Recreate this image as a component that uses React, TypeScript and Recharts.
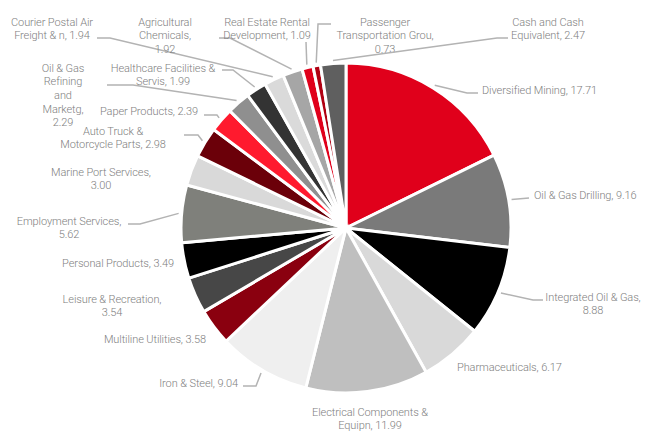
import React from 'react';
import { PieChart, Pie, Cell } from 'recharts';

const categories = [
  'Diversified Mining',
  'Oil & Gas Drilling',
  'Integrated Oil & Gas',
  'Pharmaceuticals',
  'Electrical Components & Equipn',
  'Iron & Steel',
  'Multiline Utilities',
  'Leisure & Recreation',
  'Personal Products',
  'Employment Services',
  'Marine Port Services',
  'Auto Truck & Motorcycle Parts',
  'Paper Products',
  'Oil & Gas Refining and Marketg',
  'Healthcare Facilities & Servis',
  'Courier Postal Air Freight & n',
  'Agricultural Chemicals',
  'Real Estate Rental Development',
  'Passenger Transportation Grou',
  'Cash and Cash Equivalent',
];

const weights = [
  17.71, 9.16, 8.88, 6.17, 11.99, 9.04, 3.58, 3.54, 3.49, 5.62,
  3.0, 2.98, 2.39, 2.29, 1.99, 1.94, 1.92, 1.09, 0.73, 2.47,
];

const colors = [
  '#e0001b', '#7a7a7a', '#000000', '#d9d9d9', '#bfbfbf', '#efefef',
  '#8a000f', '#474747', '#000000', '#7f807b', '#d9d9d9', '#6b0009',
  '#ff1a2e', '#8f8f8f', '#333333', '#dadada', '#a6a6a6', '#e0001b',
  '#b00012', '#5f5f5f',
];

const data = categories.map((name, i) => ({ name, value: weights[i] }));

// label layout (style only): text anchor point, alignment, wrap width, leader elbow points
type LabelLayout = {
  tx: number;
  ty: number;
  anchor: 'start' | 'middle' | 'end';
  wrap: number;
  pts: [number, number][];
};

const labelLayout: LabelLayout[] = [
  { tx: 482, ty: 90, anchor: 'start', wrap: 40, pts: [[467, 93], [478, 93]] },
  { tx: 534, ty: 195, anchor: 'start', wrap: 40, pts: [[529, 198]] },
  { tx: 593, ty: 297, anchor: 'middle', wrap: 21, pts: [[533, 300], [543, 300]] },
  { tx: 457, ty: 367, anchor: 'start', wrap: 40, pts: [] },
  { tx: 370, ty: 412, anchor: 'middle', wrap: 23, pts: [] },
  { tx: 238, ty: 383, anchor: 'end', wrap: 40, pts: [[256, 386], [243, 386]] },
  { tx: 206, ty: 339, anchor: 'end', wrap: 40, pts: [] },
  { tx: 112, ty: 299, anchor: 'middle', wrap: 21, pts: [] },
  { tx: 118, ty: 263, anchor: 'middle', wrap: 40, pts: [] },
  { tx: 69, ty: 221, anchor: 'middle', wrap: 20, pts: [[140, 224], [128, 224]] },
  { tx: 101, ty: 172, anchor: 'middle', wrap: 21, pts: [] },
  { tx: 113, ty: 131, anchor: 'middle', wrap: 22, pts: [[198, 135], [184, 135]] },
  { tx: 198, ty: 111, anchor: 'end', wrap: 40, pts: [[217, 115], [204, 115]] },
  { tx: 63, ty: 68, anchor: 'middle', wrap: 9, pts: [[133, 85], [107, 85]] },
  { tx: 163, ty: 68, anchor: 'middle', wrap: 23, pts: [[233, 70], [222, 70]] },
  { tx: 52, ty: 22, anchor: 'middle', wrap: 18, pts: [[110, 38], [97, 38]] },
  { tx: 165, ty: 22, anchor: 'middle', wrap: 12, pts: [[230, 38], [219, 38]] },
  { tx: 267, ty: 22, anchor: 'middle', wrap: 18, pts: [[306, 42]] },
  { tx: 385, ty: 22, anchor: 'middle', wrap: 20, pts: [[318, 24], [331, 24]] },
  { tx: 548, ty: 22, anchor: 'middle', wrap: 16, pts: [[497, 38], [508, 38]] },
];

const RADIAN = Math.PI / 180;
const LINE_HEIGHT = 13.7;

function wrapText(text: string, maxChars: number): string[] {
  const words = text.split(' ');
  const lines: string[] = [];
  let cur = '';
  for (const w of words) {
    const cand = cur ? cur + ' ' + w : w;
    if (cand.length > maxChars && cur) {
      lines.push(cur);
      cur = w;
    } else {
      cur = cand;
    }
  }
  if (cur) lines.push(cur);
  return lines;
}

function renderLabel(props: any) {
  const { cx, cy, midAngle, outerRadius, index, name, value } = props;
  const layout = labelLayout[index];
  if (!layout) return null;
  const text = `${name}, ${Number(value).toFixed(2)}`;
  const lines = wrapText(text, layout.wrap);
  const r = outerRadius + 3;
  const sx = cx + r * Math.cos(-midAngle * RADIAN);
  const sy = cy + r * Math.sin(-midAngle * RADIAN);
  const points = [[sx, sy], ...layout.pts];
  return (
    <g key={`lbl-${index}`}>
      {layout.pts.length > 0 && (
        <polyline
          points={points.map((p) => p.join(',')).join(' ')}
          fill="none"
          stroke="#b3b3b3"
          strokeWidth={1.5}
        />
      )}
      <text
        x={layout.tx}
        y={layout.ty}
        textAnchor={layout.anchor}
        fill="#808080"
        fontSize={11}
        letterSpacing={-0.1}
        fontFamily="Roboto, 'Liberation Sans', sans-serif"
        fontWeight={300}
      >
        {lines.map((ln, i) => (
          <tspan key={i} x={layout.tx} y={layout.ty + i * LINE_HEIGHT} dominantBaseline="central">
            {ln}
          </tspan>
        ))}
      </text>
    </g>
  );
}

export default function App() {
  return (
    <div style={{ position: 'absolute', left: 0, top: 0, width: 649, height: 432, background: '#fff' }}>
      <PieChart width={649} height={432} margin={{ top: 0, right: 0, bottom: 0, left: 0 }}>
        <Pie
          data={data}
          dataKey="value"
          nameKey="name"
          cx={346}
          cy={228}
          outerRadius={165}
          startAngle={90}
          endAngle={-270}
          stroke="#ffffff"
          strokeWidth={3}
          label={renderLabel}
          labelLine={false}
          isAnimationActive={false}
        >
          {data.map((d, i) => (
            <Cell key={d.name} fill={colors[i]} />
          ))}
        </Pie>
      </PieChart>
    </div>
  );
}
